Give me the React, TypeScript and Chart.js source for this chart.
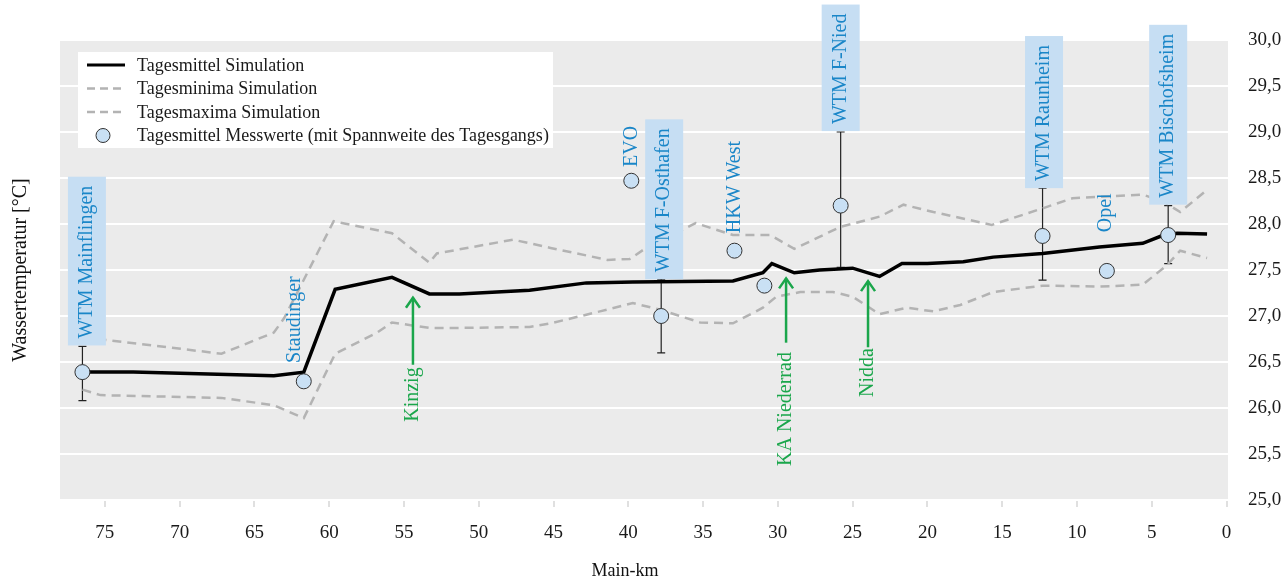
import React, { useEffect, useRef } from 'react';
import { Chart, registerables } from 'chart.js';

Chart.register(...registerables);

const FONT = '"Liberation Serif", "Times New Roman", serif';

// Simulation: daily mean
const meanKm = [76.5, 73.1, 63.7, 61.7, 59.6, 55.8, 53.3, 51.3, 46.6, 42.8, 39.7, 33.0, 31.0, 30.4, 28.9, 27.2, 25.0, 23.2, 21.7, 20.0, 17.6, 15.6, 12.3, 8.5, 5.6, 4.2, 3.3, 1.3];
const meanT = [26.39, 26.39, 26.35, 26.39, 27.29, 27.42, 27.24, 27.24, 27.28, 27.36, 27.37, 27.38, 27.47, 27.57, 27.47, 27.5, 27.52, 27.43, 27.57, 27.57, 27.59, 27.64, 27.68, 27.75, 27.79, 27.88, 27.9, 27.89];

// Simulation: daily minima
const minKm = [76.5, 75.3, 67.2, 63.7, 61.7, 59.6, 56.8, 55.8, 53.3, 51.5, 46.6, 45.2, 41.9, 39.7, 37.9, 35.2, 33.0, 31.0, 30.1, 28.5, 26.3, 25.0, 23.2, 21.4, 19.6, 17.8, 15.6, 12.3, 8.5, 5.6, 4.0, 3.1, 1.3];
const minT = [26.2, 26.14, 26.11, 26.03, 25.89, 26.59, 26.82, 26.93, 26.87, 26.87, 26.88, 26.92, 27.05, 27.14, 27.07, 26.93, 26.92, 27.09, 27.21, 27.26, 27.26, 27.21, 27.02, 27.09, 27.05, 27.12, 27.26, 27.33, 27.32, 27.34, 27.55, 27.71, 27.63];

// Simulation: daily maxima
const maxKm = [76.5, 74.9, 67.2, 63.7, 63.0, 59.7, 55.8, 53.3, 52.8, 47.7, 45.2, 41.4, 39.9, 38.9, 35.5, 33.0, 30.5, 28.9, 25.8, 23.2, 21.6, 19.6, 15.7, 12.3, 10.3, 5.6, 4.2, 3.1, 1.3];
const maxT = [26.75, 26.74, 26.59, 26.82, 26.98, 28.03, 27.9, 27.58, 27.68, 27.83, 27.74, 27.61, 27.62, 27.73, 28.01, 27.88, 27.88, 27.73, 27.97, 28.08, 28.21, 28.13, 27.99, 28.17, 28.28, 28.32, 28.24, 28.13, 28.37];

// Measurements (daily mean with daily range)
const stationKm = [76.5, 61.7, 39.8, 37.8, 32.9, 30.9, 25.8, 12.3, 8.0, 3.9];
const stationT = [26.39, 26.29, 28.47, 27.0, 27.71, 27.33, 28.2, 27.87, 27.49, 27.88];
const stationLow = [26.08, null, null, 26.6, null, null, 27.53, 27.39, null, 27.57];
const stationHigh = [26.67, null, null, 27.4, null, null, 29.0, 28.39, null, 28.2];

// Station labels
const labelText = ['WTM Mainflingen', 'Staudinger', 'EVO', 'WTM F-Osthafen', 'HKW West', 'WTM F-Nied', 'WTM Raunheim', 'Opel', 'WTM Bischofsheim'];
const labelKm = [76.2, 62.3, 39.8, 37.6, 32.9, 25.8, 12.2, 8.1, 3.9];
const labelBaseT = [26.68, 26.49, 28.62, 27.4, 27.9, 29.01, 28.39, 27.91, 28.21];
const labelBoxed = [true, false, false, true, false, true, true, false, true];

// Tributaries / inflows
const inflowText = ['Kinzig', 'KA Niederrad', 'Nidda'];
const inflowKm = [54.4, 29.45, 23.97];
const inflowTextT = [25.85, 25.37, 26.12];
const inflowArrowBaseT = [26.47, 26.71, 26.66];
const inflowArrowTipT = [27.21, 27.42, 27.39];

const seriesNames = ['Tagesmittel Simulation', 'Tagesminima Simulation', 'Tagesmaxima Simulation', 'Tagesmittel Messwerte (mit Spannweite des Tagesgangs)'];

const xTickValues = [0, 5, 10, 15, 20, 25, 30, 35, 40, 45, 50, 55, 60, 65, 70, 75];
const yTickValues = [25, 25.5, 26, 26.5, 27, 27.5, 28, 28.5, 29, 29.5, 30];

const BLUE = '#1a86c8';
const BOX = '#c6def3';
const GREEN = '#1aa64b';
const GRAY = '#b3b3b3';
const DOT = '#c9e0f4';

const pts = (xs: number[], ys: number[]) => xs.map((x, i) => ({ x, y: ys[i] }));

export default function App() {
  const ref = useRef<HTMLCanvasElement>(null);

  useEffect(() => {
    const canvas = ref.current!;

    const rotText = (ctx: CanvasRenderingContext2D, text: string, x: number, y: number, align: CanvasTextAlign) => {
      ctx.save();
      ctx.translate(x, y);
      ctx.rotate(-Math.PI / 2);
      ctx.textAlign = align;
      ctx.textBaseline = 'middle';
      ctx.fillText(text, 0, 0);
      ctx.restore();
    };

    const plugin = {
      id: 'mainDecor',
      beforeDraw(chart: any) {
        const { ctx, chartArea: a } = chart;
        ctx.save();
        ctx.fillStyle = '#ebebeb';
        ctx.fillRect(a.left, a.top, a.right - a.left, a.bottom - a.top);
        ctx.restore();
      },
      beforeDatasetsDraw(chart: any) {
        const { ctx } = chart;
        const xs = chart.scales.x;
        const ys = chart.scales.y;
        ctx.save();
        ctx.strokeStyle = '#222';
        ctx.lineWidth = 1.2;
        stationKm.forEach((km, i) => {
          const lo = stationLow[i];
          const hi = stationHigh[i];
          if (lo == null || hi == null) return;
          const x = xs.getPixelForValue(km);
          const y1 = ys.getPixelForValue(lo);
          const y2 = ys.getPixelForValue(hi);
          ctx.beginPath();
          ctx.moveTo(x, y1);
          ctx.lineTo(x, y2);
          ctx.moveTo(x - 4, y1);
          ctx.lineTo(x + 4, y1);
          ctx.moveTo(x - 4, y2);
          ctx.lineTo(x + 4, y2);
          ctx.stroke();
        });
        ctx.restore();
      },
      afterDatasetsDraw(chart: any) {
        const { ctx, chartArea: a } = chart;
        const xs = chart.scales.x;
        const ys = chart.scales.y;
        ctx.save();

        // station labels
        ctx.font = `20px ${FONT}`;
        labelText.forEach((t, i) => {
          const x = xs.getPixelForValue(labelKm[i]);
          const y0 = ys.getPixelForValue(labelBaseT[i]);
          if (labelBoxed[i]) {
            const w = ctx.measureText(t).width;
            const h = w + 16;
            ctx.fillStyle = BOX;
            ctx.fillRect(x - 19, y0 - h, 38, h);
            ctx.fillStyle = BLUE;
            rotText(ctx, t, x, y0 - 7, 'left');
          } else {
            ctx.fillStyle = BLUE;
            rotText(ctx, t, x, y0, 'left');
          }
        });

        // inflows
        inflowText.forEach((t, i) => {
          const x = xs.getPixelForValue(inflowKm[i]);
          const yt = ys.getPixelForValue(inflowTextT[i]);
          const yb = ys.getPixelForValue(inflowArrowBaseT[i]);
          const yp = ys.getPixelForValue(inflowArrowTipT[i]);
          ctx.fillStyle = GREEN;
          rotText(ctx, t, x, yt, 'left');
          ctx.strokeStyle = GREEN;
          ctx.lineWidth = 2.5;
          ctx.lineJoin = 'miter';
          ctx.beginPath();
          ctx.moveTo(x, yb);
          ctx.lineTo(x, yp + 1);
          ctx.stroke();
          ctx.beginPath();
          ctx.moveTo(x - 7, yp + 11);
          ctx.lineTo(x, yp + 1);
          ctx.lineTo(x + 7, yp + 11);
          ctx.stroke();
        });

        // legend
        const lx = a.left + 18;
        const ly = a.top + 12;
        ctx.fillStyle = '#ffffff';
        ctx.fillRect(lx, ly, 475, 96);
        const rowY = [ly + 13, ly + 36.5, ly + 60, ly + 83.5];
        ctx.lineCap = 'butt';
        // row 0
        ctx.setLineDash([]);
        ctx.strokeStyle = '#000';
        ctx.lineWidth = 3;
        ctx.beginPath();
        ctx.moveTo(lx + 9, rowY[0]);
        ctx.lineTo(lx + 47, rowY[0]);
        ctx.stroke();
        // rows 1,2
        ctx.strokeStyle = GRAY;
        ctx.lineWidth = 2.5;
        ctx.setLineDash([8, 5]);
        [1, 2].forEach((r) => {
          ctx.beginPath();
          ctx.moveTo(lx + 9, rowY[r]);
          ctx.lineTo(lx + 47, rowY[r]);
          ctx.stroke();
        });
        ctx.setLineDash([]);
        // row 3
        ctx.fillStyle = DOT;
        ctx.strokeStyle = '#333';
        ctx.lineWidth = 1;
        ctx.beginPath();
        ctx.arc(lx + 25, rowY[3], 7, 0, Math.PI * 2);
        ctx.fill();
        ctx.stroke();
        ctx.fillStyle = '#1a1a1a';
        ctx.font = `18px ${FONT}`;
        ctx.textAlign = 'left';
        ctx.textBaseline = 'middle';
        seriesNames.forEach((n, i) => ctx.fillText(n, lx + 59, rowY[i] + 1));

        // axis titles
        ctx.fillStyle = '#111';
        ctx.font = `20px ${FONT}`;
        rotText(ctx, 'Wassertemperatur [°C]', 21, (a.top + a.bottom) / 2, 'center');
        ctx.font = `18px ${FONT}`;
        ctx.textAlign = 'center';
        ctx.textBaseline = 'middle';
        ctx.fillText('Main-km', 625, 571);

        ctx.restore();
      },
    };

    const chart = new Chart(canvas, {
      type: 'line',
      data: {
        datasets: [
          {
            label: seriesNames[3],
            data: pts(stationKm, stationT),
            showLine: false,
            pointRadius: 7.5,
            pointHoverRadius: 7.5,
            pointBackgroundColor: DOT,
            pointBorderColor: '#333',
            pointBorderWidth: 1,
          },
          {
            label: seriesNames[0],
            data: pts(meanKm, meanT),
            borderColor: '#000',
            borderWidth: 3.5,
            pointRadius: 0,
            tension: 0,
            fill: false,
          },
          {
            label: seriesNames[1],
            data: pts(minKm, minT),
            borderColor: GRAY,
            borderWidth: 2.5,
            borderDash: [9, 6],
            pointRadius: 0,
            tension: 0,
            fill: false,
          },
          {
            label: seriesNames[2],
            data: pts(maxKm, maxT),
            borderColor: GRAY,
            borderWidth: 2.5,
            borderDash: [9, 6],
            pointRadius: 0,
            tension: 0,
            fill: false,
          },
        ],
      },
      options: {
        responsive: false,
        animation: false,
        events: [],
        layout: { padding: { left: 60, top: 40, right: 0, bottom: 0 } },
        plugins: { legend: { display: false }, tooltip: { enabled: false }, title: { display: false } },
        scales: {
          x: {
            type: 'linear',
            reverse: true,
            min: -0.1,
            max: 78,
            afterBuildTicks: (s: any) => {
              s.ticks = xTickValues.map((v) => ({ value: v }));
            },
            afterFit: (s: any) => {
              s.height = 79;
            },
            grid: { drawOnChartArea: false, drawTicks: true, tickLength: 7, color: '#e0e0e0', lineWidth: 2 },
            border: { display: false },
            ticks: {
              padding: 15,
              color: '#1a1a1a',
              font: { family: FONT, size: 19 },
              callback: (v: any) => String(v),
            },
          },
          y: {
            type: 'linear',
            position: 'right',
            min: 25,
            max: 30,
            afterBuildTicks: (s: any) => {
              s.ticks = yTickValues.map((v) => ({ value: v }));
            },
            afterFit: (s: any) => {
              s.width = 57;
            },
            grid: { color: '#ffffff', lineWidth: 2, drawTicks: false },
            border: { display: false },
            ticks: {
              padding: 20,
              color: '#1a1a1a',
              font: { family: FONT, size: 19 },
              callback: (v: any) => Number(v).toFixed(1).replace('.', ','),
            },
          },
        },
      },
      plugins: [plugin],
    } as any);

    return () => chart.destroy();
  }, []);

  return (
    <div style={{ position: 'fixed', left: 0, top: 0, width: 1285, height: 579, background: '#fff' }}>
      <canvas ref={ref} width={1285} height={579} style={{ display: 'block' }} />
    </div>
  );
}
